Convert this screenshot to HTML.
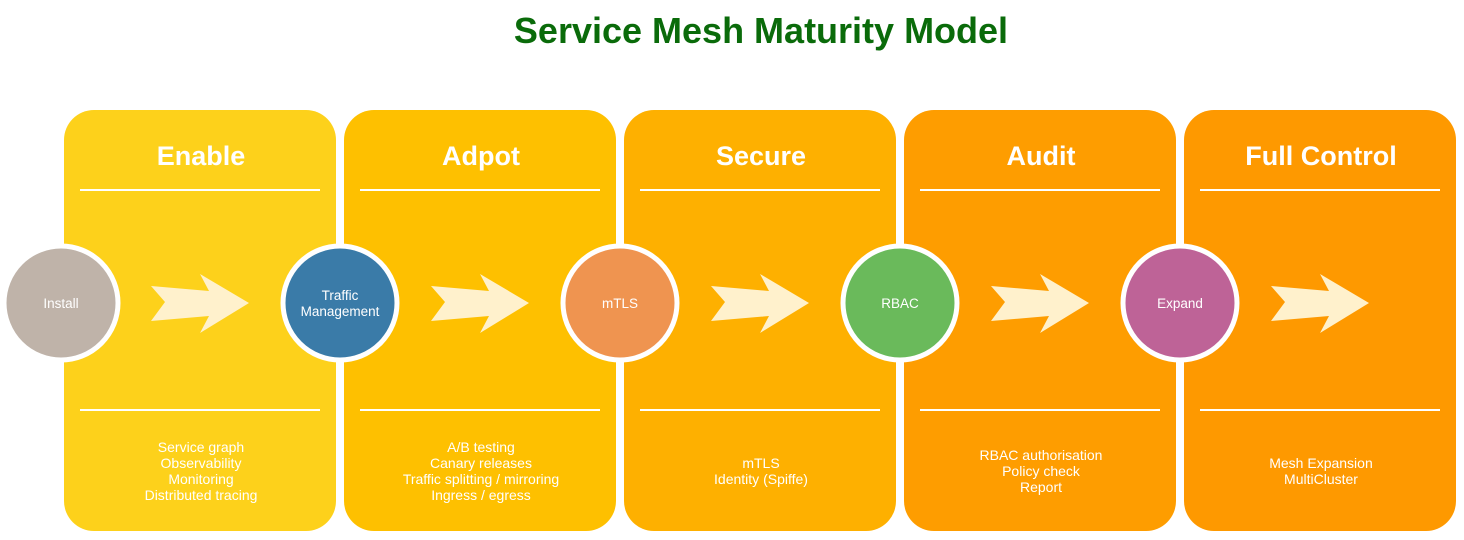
<!DOCTYPE html>
<html><head><meta charset="utf-8"><style>
html,body{margin:0;padding:0;background:#fff;}
svg{display:block;}
text{font-family:"Liberation Sans",Arial,sans-serif;}
</style></head><body>
<svg width="1464" height="540" viewBox="0 0 1464 540" xmlns="http://www.w3.org/2000/svg">
<text x="761" y="43" text-anchor="middle" font-size="36" font-weight="bold" fill="#0a6b0a">Service Mesh Maturity Model</text>
<g>
<rect x="64" y="110" width="272" height="421" rx="30" fill="#fdd11b"/>
<rect x="344" y="110" width="272" height="421" rx="30" fill="#fec000"/>
<rect x="624" y="110" width="272" height="421" rx="30" fill="#feb000"/>
<rect x="904" y="110" width="272" height="421" rx="30" fill="#fe9d00"/>
<rect x="1184" y="110" width="272" height="421" rx="30" fill="#fe9900"/>
</g>
<g stroke="#fff" stroke-width="2">
<line x1="80" y1="190" x2="320" y2="190"/><line x1="80" y1="410" x2="320" y2="410"/>
<line x1="360" y1="190" x2="600" y2="190"/><line x1="360" y1="410" x2="600" y2="410"/>
<line x1="640" y1="190" x2="880" y2="190"/><line x1="640" y1="410" x2="880" y2="410"/>
<line x1="920" y1="190" x2="1160" y2="190"/><line x1="920" y1="410" x2="1160" y2="410"/>
<line x1="1200" y1="190" x2="1440" y2="190"/><line x1="1200" y1="410" x2="1440" y2="410"/>
</g>
<g fill="#fff" font-size="27" font-weight="bold" text-anchor="middle">
<text x="201" y="165">Enable</text>
<text x="481" y="165">Adpot</text>
<text x="761" y="165">Secure</text>
<text x="1041" y="165">Audit</text>
<text x="1321" y="165">Full Control</text>
</g>
<g fill="#fff1cc">
<polygon id="ar" points="151,286 165,302 151,321 209,316 200,333 249,303 200,274 209,291"/>
<use href="#ar" x="280"/><use href="#ar" x="560"/><use href="#ar" x="840"/><use href="#ar" x="1120"/>
</g>
<g stroke="#fff" stroke-width="5">
<circle cx="61" cy="303" r="57" fill="#bfb3a9"/>
<circle cx="340" cy="303" r="57" fill="#3a7ba8"/>
<circle cx="620" cy="303" r="57" fill="#ef9450"/>
<circle cx="900" cy="303" r="57" fill="#6aba5b"/>
<circle cx="1180" cy="303" r="57" fill="#be6397"/>
</g>
<g fill="#fff" font-size="13.5" text-anchor="middle">
<text x="61" y="308">Install</text>
<text x="340" y="300">Traffic</text>
<text x="340" y="316">Management</text>
<text x="620" y="308">mTLS</text>
<text x="900" y="308">RBAC</text>
<text x="1180" y="308">Expand</text>
</g>
<g fill="#fff" font-size="14" text-anchor="middle">
<text x="201" y="452">Service graph</text>
<text x="201" y="468">Observability</text>
<text x="201" y="484">Monitoring</text>
<text x="201" y="500">Distributed tracing</text>
<text x="481" y="452">A/B testing</text>
<text x="481" y="468">Canary releases</text>
<text x="481" y="484">Traffic splitting / mirroring</text>
<text x="481" y="500">Ingress / egress</text>
<text x="761" y="468">mTLS</text>
<text x="761" y="484">Identity (Spiffe)</text>
<text x="1041" y="460">RBAC authorisation</text>
<text x="1041" y="476">Policy check</text>
<text x="1041" y="492">Report</text>
<text x="1321" y="468">Mesh Expansion</text>
<text x="1321" y="484">MultiCluster</text>
</g>
</svg>
</body></html>
